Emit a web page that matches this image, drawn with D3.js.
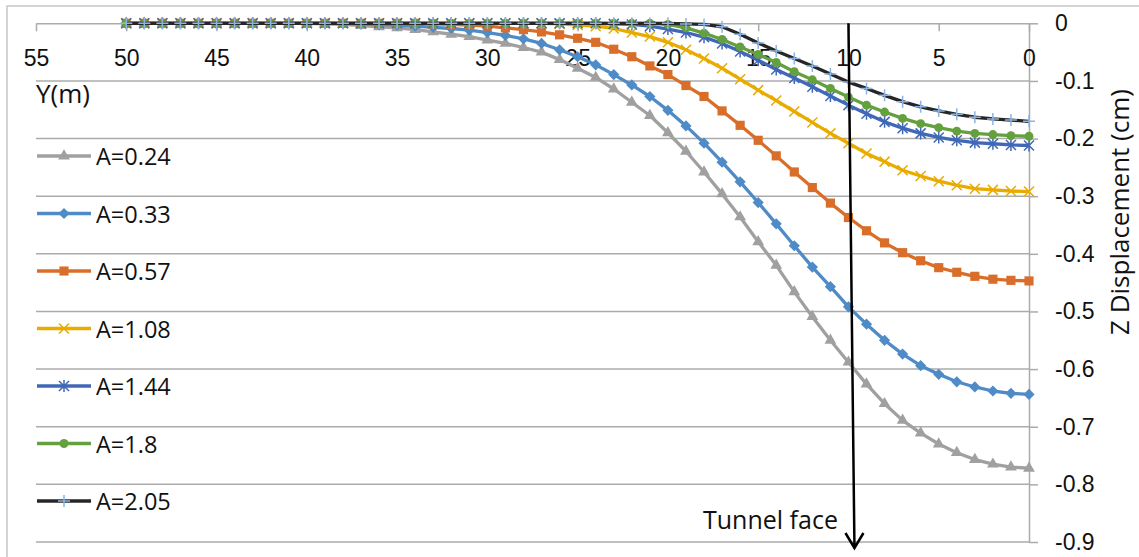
<!DOCTYPE html>
<html>
<head>
<meta charset="utf-8">
<script src="https://cdn.jsdelivr.net/npm/d3@7"></script>
<style>
  html, body { margin: 0; padding: 0; background: #fff; }
  svg { display: block; font-family: "Open Sans", sans-serif; }
</style>
</head>
<body>
<div id="chart"></div>
<script>
// distance from the tunnel face, Y (m) - index of every series below
const yDist = [0, 1, 2, 3, 4, 5, 6, 7, 8, 9,
  10, 11, 12, 13, 14, 15, 16, 17, 18, 19,
  20, 21, 22, 23, 24, 25, 26, 27, 28, 29,
  30, 31, 32, 33, 34, 35, 36, 37, 38, 39,
  40, 41, 42, 43, 44, 45, 46, 47, 48, 49, 50]

// Z displacement (cm) for each A
const a024 = [-0.772, -0.770, -0.765, -0.757, -0.745, -0.730, -0.711, -0.689, -0.660, -0.626,
  -0.588, -0.550, -0.509, -0.466, -0.420, -0.379, -0.336, -0.296, -0.258, -0.222,
  -0.190, -0.160, -0.137, -0.114, -0.094, -0.078, -0.063, -0.050, -0.042, -0.035,
  -0.029, -0.023, -0.019, -0.015, -0.011, -0.008, -0.006, -0.004, -0.002, -0.001,
  0, 0, 0, 0, 0, 0, 0, 0, 0, 0, 0]
const a033 = [-0.644, -0.642, -0.638, -0.631, -0.622, -0.609, -0.594, -0.574, -0.550, -0.522,
  -0.492, -0.457, -0.423, -0.386, -0.348, -0.311, -0.275, -0.241, -0.208, -0.178,
  -0.151, -0.127, -0.107, -0.089, -0.072, -0.058, -0.046, -0.035, -0.027, -0.021,
  -0.016, -0.012, -0.009, -0.007, -0.005, -0.003, -0.002, -0.001, 0, 0,
  0, 0, 0, 0, 0, 0, 0, 0, 0, 0, 0]
const a057 = [-0.447, -0.446, -0.444, -0.439, -0.432, -0.424, -0.412, -0.398, -0.381, -0.360,
  -0.337, -0.312, -0.285, -0.258, -0.230, -0.203, -0.177, -0.152, -0.127, -0.108,
  -0.089, -0.074, -0.058, -0.045, -0.033, -0.026, -0.020, -0.015, -0.011, -0.008,
  -0.005, -0.003, -0.002, -0.001, 0, 0, 0, 0, 0, 0,
  0, 0, 0, 0, 0, 0, 0, 0, 0, 0, 0]
const a108 = [-0.292, -0.291, -0.289, -0.287, -0.281, -0.274, -0.265, -0.255, -0.240, -0.226,
  -0.208, -0.191, -0.172, -0.153, -0.134, -0.116, -0.097, -0.078, -0.061, -0.046,
  -0.033, -0.023, -0.016, -0.009, -0.005, -0.003, -0.001, 0, 0, 0,
  0, 0, 0, 0, 0, 0, 0, 0, 0, 0,
  0, 0, 0, 0, 0, 0, 0, 0, 0, 0, 0]
const a144 = [-0.212, -0.211, -0.209, -0.207, -0.203, -0.198, -0.191, -0.182, -0.171, -0.157,
  -0.142, -0.126, -0.110, -0.095, -0.080, -0.064, -0.049, -0.035, -0.024, -0.016,
  -0.010, -0.005, -0.002, -0.001, 0, 0, 0, 0, 0, 0,
  0, 0, 0, 0, 0, 0, 0, 0, 0, 0,
  0, 0, 0, 0, 0, 0, 0, 0, 0, 0, 0]
const a180 = [-0.196, -0.195, -0.193, -0.191, -0.187, -0.181, -0.174, -0.165, -0.154, -0.142,
  -0.128, -0.113, -0.098, -0.084, -0.068, -0.054, -0.041, -0.028, -0.017, -0.008,
  -0.002, 0, 0, 0, 0, 0, 0, 0, 0, 0,
  0, 0, 0, 0, 0, 0, 0, 0, 0, 0,
  0, 0, 0, 0, 0, 0, 0, 0, 0, 0, 0]
const a205 = [-0.170, -0.168, -0.166, -0.163, -0.158, -0.152, -0.145, -0.136, -0.125, -0.113,
  -0.102, -0.088, -0.074, -0.061, -0.048, -0.034, -0.019, -0.006, -0.002, -0.001,
  0, 0, 0, 0, 0, 0, 0, 0, 0, 0,
  0, 0, 0, 0, 0, 0, 0, 0, 0, 0,
  0, 0, 0, 0, 0, 0, 0, 0, 0, 0, 0]

const seriesNames = ['A=0.24', 'A=0.33', 'A=0.57', 'A=1.08', 'A=1.44', 'A=1.8', 'A=2.05']
const seriesValues = [a024, a033, a057, a108, a144, a180, a205]

// axis ticks
const xTicks = [55, 50, 45, 40, 35, 30, 25, 20, 15, 10, 5, 0]
const zTicks = [0, -0.1, -0.2, -0.3, -0.4, -0.5, -0.6, -0.7, -0.8, -0.9]
const tunnelFace = 10

// look of each series: line colour, marker type, marker colour
const styles = [
  { color: '#a0a0a0', marker: 'triangle', mcolor: '#a0a0a0' },
  { color: '#4f8bc6', marker: 'diamond', mcolor: '#4f8bc6' },
  { color: '#d96e2a', marker: 'square', mcolor: '#d96e2a' },
  { color: '#e8ab00', marker: 'x', mcolor: '#e8ab00' },
  { color: '#4068b6', marker: 'star', mcolor: '#4068b6' },
  { color: '#65a03f', marker: 'circle', mcolor: '#65a03f' },
  { color: '#262626', marker: 'plus', mcolor: '#8db4e2' },
]

const width = 1139
const height = 557
const gridColor = '#ababab'

const svg = d3.select('#chart').append('svg')
  .attr('width', width)
  .attr('height', height)

// chart frame (cut by the window on the right and bottom)
svg.append('path')
  .attr('d', `M7,${height}V6H${width}`)
  .attr('fill', 'none')
  .attr('stroke', '#c6c6c6')
  .attr('stroke-width', 1.5)

const x = d3.scaleLinear().domain([55, 0]).range([36, 1029])
const y = d3.scaleLinear().domain([0, -0.9]).range([23.3, 542])

// horizontal gridlines
svg.append('g')
  .selectAll('line')
  .data(zTicks.slice(1))
  .join('line')
  .attr('x1', x(55))
  .attr('x2', x(0))
  .attr('y1', d => y(d))
  .attr('y2', d => y(d))
  .attr('stroke', gridColor)
  .attr('stroke-width', 1.5)

// Z axis on the right
const zAxis = svg.append('g')
  .attr('transform', `translate(${x(0)},0)`)
  .call(d3.axisRight(y)
    .tickValues(zTicks)
    .tickSize(9)
    .tickSizeOuter(0)
    .tickPadding(17)
    .tickFormat(d => d === 0 ? '0' : d.toFixed(1)))
zAxis.select('.domain').attr('stroke', gridColor).attr('stroke-width', 1.5)
zAxis.selectAll('.tick line').attr('stroke', gridColor).attr('stroke-width', 1.5)
zAxis.selectAll('.tick text')
  .attr('fill', '#111')
  .style('font-size', '23px')

// Y axis along the top (zero line)
const yAxis = svg.append('g')
  .attr('transform', `translate(0,${y(0)})`)
  .call(d3.axisBottom(x)
    .tickValues(xTicks)
    .tickSize(8)
    .tickSizeOuter(0)
    .tickFormat(d3.format('d')))
yAxis.select('.domain').attr('stroke', gridColor).attr('stroke-width', 1.5)
yAxis.selectAll('.tick line').attr('stroke', gridColor).attr('stroke-width', 1.5)
yAxis.selectAll('.tick text')
  .attr('y', 35)
  .attr('dy', '0.35em')
  .attr('fill', '#111')
  .style('font-size', '23px')

// axis titles
svg.append('text')
  .attr('x', 36)
  .attr('y', 103)
  .attr('fill', '#111')
  .style('font-size', '26px')
  .text('Y(m)')

svg.append('text')
  .attr('transform', 'translate(1119,212) rotate(-90)')
  .attr('text-anchor', 'middle')
  .attr('dominant-baseline', 'central')
  .attr('fill', '#111')
  .style('font-size', '26px')
  .text('Z Displacement (cm)')

// marker drawing
function drawMarker(sel, type, color) {
  if (type === 'triangle' || type === 'diamond' || type === 'square' || type === 'circle') {
    const sym = {
      triangle: d3.symbol(d3.symbolTriangle, 60),
      diamond: d3.symbol(d3.symbolDiamond2, 80),
      square: d3.symbol(d3.symbolSquare, 84),
      circle: d3.symbol(d3.symbolCircle, 62),
    }[type]
    sel.append('path').attr('d', sym()).attr('fill', color)
  } else {
    const p = {
      x: 'M-5,-5L5,5M-5,5L5,-5',
      star: 'M-5,-5L5,5M-5,5L5,-5M0,-6V6',
      plus: 'M-6,0H6M0,-6V6',
    }[type]
    sel.append('path').attr('d', p).attr('fill', 'none').attr('stroke', color).attr('stroke-width', 1.5)
  }
}

const line = d3.line()
  .x((d, i) => x(yDist[i]))
  .y(d => y(d))

// series, drawn in order so the last sits on top
seriesValues.forEach((vals, k) => {
  const st = styles[k]
  const g = svg.append('g')
  g.append('path')
    .datum(vals)
    .attr('d', line)
    .attr('fill', 'none')
    .attr('stroke', st.color)
    .attr('stroke-width', 3.3)
    .attr('stroke-linejoin', 'round')
  g.selectAll('g.m')
    .data(vals)
    .join('g')
    .attr('class', 'm')
    .attr('transform', (d, i) => `translate(${x(yDist[i])},${y(d)})`)
    .each(function () { drawMarker(d3.select(this), st.marker, st.mcolor) })
})

// legend
const legend = svg.append('g')
seriesNames.forEach((name, k) => {
  const st = styles[k]
  const ly = 156 + k * 57.5
  const item = legend.append('g').attr('transform', `translate(0,${ly})`)
  item.append('line')
    .attr('x1', 37).attr('x2', 91)
    .attr('stroke', st.color)
    .attr('stroke-width', 3.3)
  const m = item.append('g').attr('transform', 'translate(64,0)')
  drawMarker(m, st.marker, st.mcolor)
  item.append('text')
    .attr('x', 96)
    .attr('dominant-baseline', 'central')
    .attr('fill', '#111')
    .style('font-size', '23.5px')
    .text(name)
})

// tunnel face arrow
const fx = x(tunnelFace)
svg.append('path')
  .attr('d', `M${fx},${y(0)}L${fx + 6},548M${fx - 3},533L${fx + 6},548L${fx + 15},533`)
  .attr('fill', 'none')
  .attr('stroke', '#000')
  .attr('stroke-width', 2.5)
svg.append('text')
  .attr('x', 703)
  .attr('y', 529)
  .attr('fill', '#111')
  .style('font-size', '25px')
  .text('Tunnel face')
</script>
</body>
</html>
